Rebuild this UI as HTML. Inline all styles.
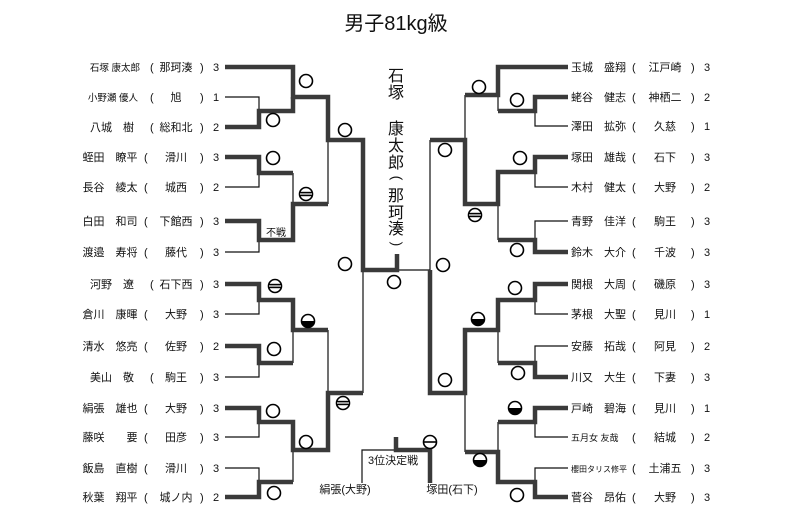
<!DOCTYPE html>
<html><head><meta charset="utf-8"><style>
html,body{margin:0;padding:0;background:#fff;width:793px;height:524px;overflow:hidden}
svg text{font-family:"Liberation Sans","Noto Sans CJK JP",sans-serif;fill:#111}
</style></head><body>
<svg width="793" height="524" viewBox="0 0 793 524" xmlns="http://www.w3.org/2000/svg">
<defs>
<g id="o"><circle r="6.5" fill="#fff" stroke="#000" stroke-width="1.6"/></g>
<g id="d"><circle r="6.5" fill="#fff" stroke="#000" stroke-width="1.6"/><rect x="-6" y="-2.2" width="12" height="4.4" fill="#000"/><line x1="-6" y1="0" x2="6" y2="0" stroke="#fff" stroke-width="1.2"/></g>
<g id="h"><circle r="6.5" fill="#fff" stroke="#000" stroke-width="1.6"/><path d="M-6.5,0 A6.5,6.5 0 0 0 6.5,0 Z" fill="#000"/></g>
<g id="s"><circle r="6.5" fill="#fff" stroke="#000" stroke-width="1.6"/><line x1="-6.5" y1="0" x2="6.5" y2="0" stroke="#000" stroke-width="1.6"/></g>
</defs>
<text x="396" y="30" font-size="20" text-anchor="middle">男子81kg級</text>

<g fill="none" stroke="#111" stroke-width="1.2">
<polyline points="225,97 259,97 259,111"/>
<polyline points="225,187 259,187 259,173"/>
<polyline points="225,252 259,252 259,240"/>
<polyline points="225,314 259,314 259,300"/>
<polyline points="225,377 259,377 259,363"/>
<polyline points="225,437 259,437 259,422"/>
<polyline points="225,468 259,468 259,482"/>
<line x1="293" y1="173" x2="293" y2="204"/>
<line x1="293" y1="330" x2="293" y2="363"/>
<line x1="293" y1="450" x2="293" y2="482"/>
<line x1="328" y1="140" x2="328" y2="204"/>
<line x1="328" y1="330" x2="328" y2="393"/>
<line x1="363" y1="270" x2="363" y2="393"/>
<line x1="397" y1="270" x2="430" y2="270"/>
<line x1="430" y1="140" x2="430" y2="270"/>
<polyline points="568,126 535,126 535,111"/>
<polyline points="568,187 535,187 535,172"/>
<polyline points="568,221 535,221 535,240"/>
<polyline points="568,314 535,314 535,300"/>
<polyline points="568,346 535,346 535,363"/>
<polyline points="568,437 535,437 535,422"/>
<polyline points="568,468 535,468 535,482"/>
<line x1="465" y1="95" x2="465" y2="140"/>
<line x1="498" y1="111" x2="498" y2="95"/>
<line x1="498" y1="240" x2="498" y2="204"/>
<line x1="498" y1="363" x2="498" y2="330"/>
<line x1="498" y1="422" x2="498" y2="452"/>
<line x1="465" y1="452" x2="465" y2="393"/>
<polyline points="362,483 362,450 396,450"/>
</g>

<g fill="none" stroke="#3a3a3a" stroke-width="4.5" stroke-linejoin="miter">
<polyline points="225,67 293,67 293,97 328,97 328,140 363,140 363,270 397,270 397,254"/>
<polyline points="225,127 259,127 259,111 293,111 293,97"/>
<polyline points="225,157 259,157 259,173 293,173"/>
<polyline points="225,221 259,221 259,240 293,240 293,204 328,204"/>
<polyline points="225,284 259,284 259,300 293,300 293,330 328,330"/>
<polyline points="225,346 259,346 259,363 293,363"/>
<polyline points="225,408 259,408 259,422 293,422 293,450 328,450 328,393 363,393"/>
<polyline points="225,497 259,497 259,482 293,482"/>
<polyline points="568,67 498,67 498,95 465,95"/>
<polyline points="568,97 535,97 535,111 498,111"/>
<polyline points="568,157 535,157 535,172 498,172 498,204 465,204 465,140 430,140"/>
<polyline points="568,252 535,252 535,240 498,240"/>
<polyline points="568,284 535,284 535,300 498,300 498,330 465,330 465,393 430,393 430,270"/>
<polyline points="568,377 535,377 535,363 498,363"/>
<polyline points="568,408 535,408 535,422 498,422"/>
<polyline points="568,497 535,497 535,482 498,482 498,452 465,452"/>
<polyline points="396,437 396,450 430,450 430,483"/>
</g>

<use href="#o" x="306" y="81"/><use href="#o" x="273" y="120"/><use href="#o" x="345" y="130"/>
<use href="#o" x="273" y="158"/><use href="#d" x="306" y="194"/><use href="#o" x="345" y="264"/>
<use href="#d" x="275" y="286"/><use href="#h" x="308" y="321"/><use href="#o" x="274" y="349"/>
<use href="#d" x="343" y="403"/><use href="#o" x="273" y="411"/><use href="#o" x="306" y="442"/>
<use href="#o" x="274" y="493"/><use href="#o" x="394" y="282"/><use href="#s" x="430" y="442"/>
<use href="#o" x="479" y="87"/><use href="#o" x="517" y="100"/><use href="#o" x="445" y="150"/>
<use href="#o" x="520" y="158"/><use href="#d" x="475" y="215"/><use href="#o" x="517" y="250"/>
<use href="#o" x="443" y="265"/><use href="#o" x="515" y="288"/><use href="#h" x="478" y="319"/>
<use href="#o" x="445" y="380"/><use href="#o" x="518" y="373"/><use href="#h" x="515" y="408"/>
<use href="#h" x="480" y="460"/><use href="#o" x="517" y="495"/>

<g font-size="16" text-anchor="middle">
<text x="396" y="81">石</text><text x="396" y="98">塚</text>
<text x="396" y="134">康</text><text x="396" y="151">太</text><text x="396" y="168">郎</text>
<text x="396" y="201">那</text><text x="396" y="218">珂</text><text x="396" y="234">湊</text>
<text transform="translate(396,178) rotate(90)" font-size="14" text-anchor="middle" dominant-baseline="middle">(</text>
<text transform="translate(396,244) rotate(90)" font-size="14" text-anchor="middle" dominant-baseline="middle">)</text>
</g>
<text x="266" y="236" font-size="10">不戦</text>
<text x="368" y="464" font-size="11">3位決定戦</text>
<text x="345" y="493" font-size="11" text-anchor="middle">絹張(大野)</text>
<text x="452" y="493" font-size="11" text-anchor="middle">塚田(石下)</text>

<g font-size="11">
<g text-anchor="middle">
<text x="115" y="71" font-size="9.5">石塚 康太郎</text>
<text x="113" y="101" font-size="9.5">小野瀬 優人</text>
<text x="112" y="131">八城　樹</text>
<text x="110" y="161">蛭田　瞭平</text>
<text x="110" y="191">長谷　綾太</text>
<text x="110" y="225">白田　和司</text>
<text x="110" y="256">渡邉　寿将</text>
<text x="112" y="288">河野　遼</text>
<text x="110" y="318">倉川　康暉</text>
<text x="110" y="350">清水　悠亮</text>
<text x="112" y="381">美山　敬</text>
<text x="110" y="412">絹張　雄也</text>
<text x="110" y="441">藤咲　　要</text>
<text x="110" y="472">飯島　直樹</text>
<text x="110" y="501">秋葉　翔平</text>
<text x="176" y="71">那珂湊</text><text x="176" y="101">旭</text><text x="176" y="131">総和北</text>
<text x="176" y="161">滑川</text><text x="176" y="191">城西</text><text x="176" y="225">下館西</text>
<text x="176" y="256">藤代</text><text x="176" y="288">石下西</text><text x="176" y="318">大野</text>
<text x="176" y="350">佐野</text><text x="176" y="381">駒王</text><text x="176" y="412">大野</text>
<text x="176" y="441">田彦</text><text x="176" y="472">滑川</text><text x="176" y="501">城ノ内</text>
</g>
<g>
<text x="150" y="71">(</text><text x="150" y="101">(</text><text x="150" y="131">(</text><text x="144" y="161">(</text><text x="144" y="191">(</text><text x="144" y="225">(</text><text x="144" y="256">(</text><text x="150" y="288">(</text><text x="144" y="318">(</text><text x="144" y="350">(</text><text x="150" y="381">(</text><text x="144" y="412">(</text><text x="144" y="441">(</text><text x="144" y="472">(</text><text x="144" y="501">(</text>
<text x="200" y="71">)</text><text x="200" y="101">)</text><text x="200" y="131">)</text><text x="200" y="161">)</text><text x="200" y="191">)</text><text x="200" y="225">)</text><text x="200" y="256">)</text><text x="200" y="288">)</text><text x="200" y="318">)</text><text x="200" y="350">)</text><text x="200" y="381">)</text><text x="200" y="412">)</text><text x="200" y="441">)</text><text x="200" y="472">)</text><text x="200" y="501">)</text>
<text x="213" y="71">3</text><text x="213" y="101">1</text><text x="213" y="131">2</text><text x="213" y="161">3</text><text x="213" y="191">2</text><text x="213" y="225">3</text><text x="213" y="256">3</text><text x="213" y="288">3</text><text x="213" y="318">3</text><text x="213" y="350">2</text><text x="213" y="381">3</text><text x="213" y="412">3</text><text x="213" y="441">3</text><text x="213" y="472">3</text><text x="213" y="501">2</text>
</g>

<g>
<text x="571" y="71">玉城　盛翔</text><text x="571" y="101">蛯谷　健志</text><text x="571" y="130">澤田　拡弥</text>
<text x="571" y="161">塚田　雄哉</text><text x="571" y="191">木村　健太</text><text x="571" y="225">青野　佳洋</text>
<text x="571" y="256">鈴木　大介</text><text x="571" y="288">関根　大周</text><text x="571" y="318">茅根　大聖</text>
<text x="571" y="350">安藤　拓哉</text><text x="571" y="381">川又　大生</text><text x="571" y="412">戸崎　碧海</text>
<text x="571" y="441" font-size="9">五月女 友哉</text><text x="571" y="472" font-size="8">櫻田タリス修平</text><text x="571" y="501">菅谷　昂佑</text>
<text x="632" y="71">(</text><text x="632" y="101">(</text><text x="632" y="130">(</text><text x="632" y="161">(</text><text x="632" y="191">(</text><text x="632" y="225">(</text><text x="632" y="256">(</text><text x="632" y="288">(</text><text x="632" y="318">(</text><text x="632" y="350">(</text><text x="632" y="381">(</text><text x="632" y="412">(</text><text x="632" y="441">(</text><text x="632" y="472">(</text><text x="632" y="501">(</text>
<text x="691" y="71">)</text><text x="691" y="101">)</text><text x="691" y="130">)</text><text x="691" y="161">)</text><text x="691" y="191">)</text><text x="691" y="225">)</text><text x="691" y="256">)</text><text x="691" y="288">)</text><text x="691" y="318">)</text><text x="691" y="350">)</text><text x="691" y="381">)</text><text x="691" y="412">)</text><text x="691" y="441">)</text><text x="691" y="472">)</text><text x="691" y="501">)</text>
<text x="704" y="71">3</text><text x="704" y="101">2</text><text x="704" y="130">1</text><text x="704" y="161">3</text><text x="704" y="191">2</text><text x="704" y="225">3</text><text x="704" y="256">3</text><text x="704" y="288">3</text><text x="704" y="318">1</text><text x="704" y="350">2</text><text x="704" y="381">3</text><text x="704" y="412">1</text><text x="704" y="441">2</text><text x="704" y="472">3</text><text x="704" y="501">3</text>
</g>
<g text-anchor="middle">
<text x="665" y="71">江戸崎</text><text x="665" y="101">神栖二</text><text x="665" y="130">久慈</text>
<text x="665" y="161">石下</text><text x="665" y="191">大野</text><text x="665" y="225">駒王</text>
<text x="665" y="256">千波</text><text x="665" y="288">磯原</text><text x="665" y="318">見川</text>
<text x="665" y="350">阿見</text><text x="665" y="381">下妻</text><text x="665" y="412">見川</text>
<text x="665" y="441">結城</text><text x="665" y="472">土浦五</text><text x="665" y="501">大野</text>
</g>
</g>
</svg>
</body></html>
